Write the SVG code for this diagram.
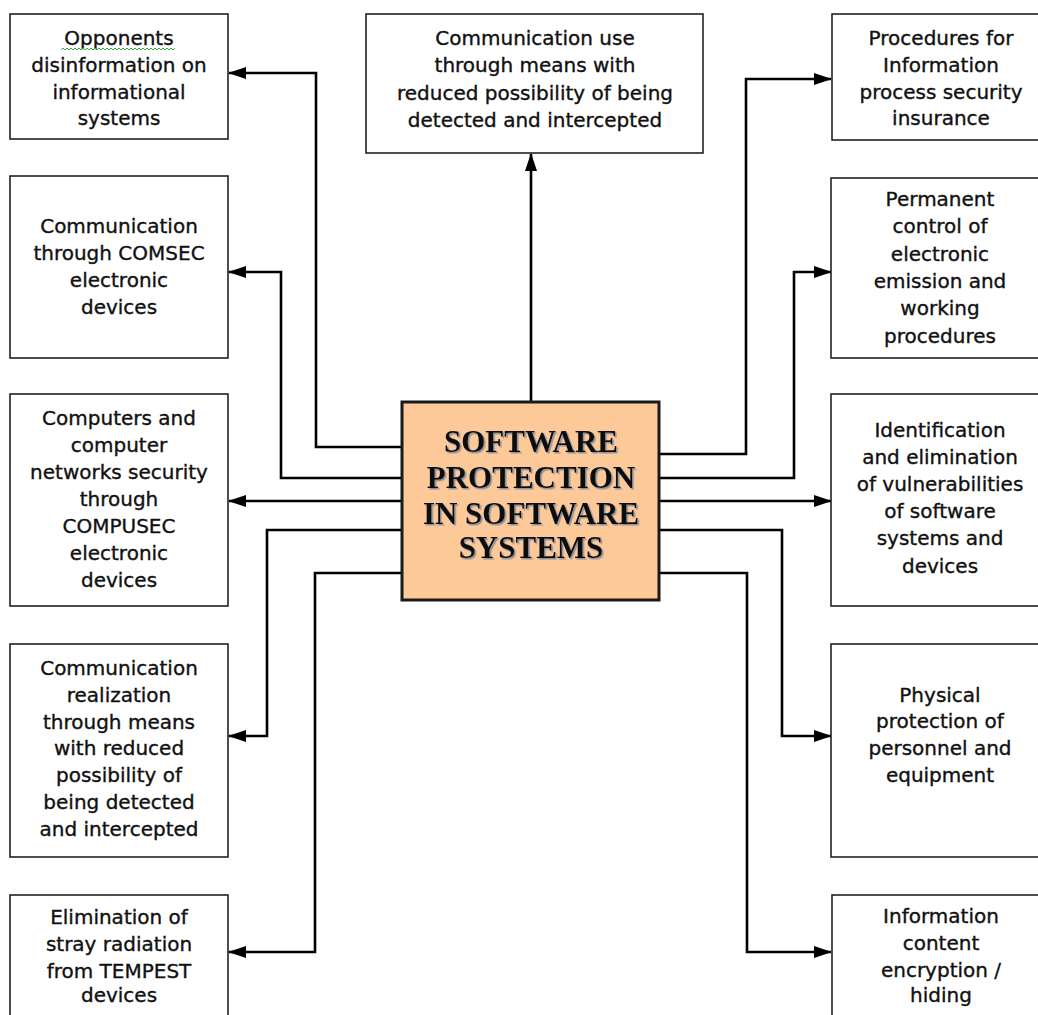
<svg xmlns="http://www.w3.org/2000/svg" width="1038" height="1015" viewBox="0 0 1038 1015">
<defs>
<style>
.box{fill:#fff;stroke:#222;stroke-width:1.6}
.t{font-family:"DejaVu Sans","Liberation Sans",sans-serif;font-size:20px;fill:#111;stroke:#111;stroke-width:0.35;text-anchor:middle}
.c{font-family:"Liberation Serif","Times New Roman",serif;font-size:31px;font-weight:bold;fill:#111;text-anchor:middle}
.ln{fill:none;stroke:#000;stroke-width:2.6;stroke-linejoin:miter}
</style>
<marker id="ah" markerUnits="userSpaceOnUse" markerWidth="18" markerHeight="12" refX="17" refY="6" orient="auto">
<path d="M0,0 L18,6 L0,12 Z" fill="#000"/>
</marker>
<filter id="sh" x="-10%" y="-10%" width="120%" height="130%">
<feDropShadow dx="1.5" dy="1.5" stdDeviation="0.6" flood-color="#6a7f9a" flood-opacity="0.8"/>
</filter>
</defs>

<g id="connectors">
<path class="ln" marker-end="url(#ah)" d="M531,402 V154"/>
<path class="ln" marker-end="url(#ah)" d="M402,447 H316 V73 H229"/>
<path class="ln" marker-end="url(#ah)" d="M402,478 H281 V272 H229"/>
<path class="ln" marker-end="url(#ah)" d="M402,501 H229"/>
<path class="ln" marker-end="url(#ah)" d="M402,530 H267 V736 H229"/>
<path class="ln" marker-end="url(#ah)" d="M402,573 H315 V952 H229"/>
<path class="ln" marker-end="url(#ah)" d="M659,454 H746 V79 H831"/>
<path class="ln" marker-end="url(#ah)" d="M659,478 H794 V272 H831"/>
<path class="ln" marker-end="url(#ah)" d="M659,501 H831"/>
<path class="ln" marker-end="url(#ah)" d="M659,530 H782 V736 H831"/>
<path class="ln" marker-end="url(#ah)" d="M659,573 H747 V952 H831"/>
</g>

<g id="center">
<rect x="402" y="402" width="257" height="198" fill="#fdc999" stroke="#1a1a1a" stroke-width="3"/>
<g filter="url(#sh)">
<text class="c" x="531" y="452">SOFTWARE</text>
<text class="c" x="531" y="488">PROTECTION</text>
<text class="c" x="531" y="524">IN SOFTWARE</text>
<text class="c" x="531" y="558">SYSTEMS</text>
</g>
</g>

<g id="top">
<rect class="box" x="366" y="14" width="337" height="139"/>
<text class="t" x="535" y="45">Communication use</text>
<text class="t" x="535" y="72">through means with</text>
<text class="t" x="535" y="100">reduced possibility of being</text>
<text class="t" x="535" y="127">detected and intercepted</text>
</g>

<g id="l1">
<rect class="box" x="10" y="14" width="218" height="125"/>
<text class="t" x="119" y="45">Opponents</text>
<path d="M61,50 l2,-2 l2,2 l2,-2 l2,2 l2,-2 l2,2 l2,-2 l2,2 l2,-2 l2,2 l2,-2 l2,2 l2,-2 l2,2 l2,-2 l2,2 l2,-2 l2,2 l2,-2 l2,2 l2,-2 l2,2 l2,-2 l2,2 l2,-2 l2,2 l2,-2 l2,2 l2,-2 l2,2 l2,-2 l2,2 l2,-2 l2,2 l2,-2 l2,2 l2,-2 l2,2 l2,-2 l2,2 l2,-2 l2,2 l2,-2 l2,2 l2,-2 l2,2 l2,-2 l2,2 l2,-2 l2,2 l2,-2 l2,2 l2,-2 l2,2 l2,-2 l2,2 l2,-2" fill="none" stroke="#3cb043" stroke-width="1"/>
<text class="t" x="119" y="72">disinformation on</text>
<text class="t" x="119" y="99">informational</text>
<text class="t" x="119" y="125">systems</text>
</g>

<g id="l2">
<rect class="box" x="10" y="176" width="218" height="182"/>
<text class="t" x="119" y="233">Communication</text>
<text class="t" x="119" y="260">through COMSEC</text>
<text class="t" x="119" y="287">electronic</text>
<text class="t" x="119" y="314">devices</text>
</g>

<g id="l3">
<rect class="box" x="10" y="394" width="218" height="212"/>
<text class="t" x="119" y="425">Computers and</text>
<text class="t" x="119" y="452">computer</text>
<text class="t" x="119" y="479">networks security</text>
<text class="t" x="119" y="506">through</text>
<text class="t" x="119" y="533">COMPUSEC</text>
<text class="t" x="119" y="560">electronic</text>
<text class="t" x="119" y="587">devices</text>
</g>

<g id="l4">
<rect class="box" x="10" y="644" width="218" height="213"/>
<text class="t" x="119" y="675">Communication</text>
<text class="t" x="119" y="702">realization</text>
<text class="t" x="119" y="729">through means</text>
<text class="t" x="119" y="755">with reduced</text>
<text class="t" x="119" y="782">possibility of</text>
<text class="t" x="119" y="809">being detected</text>
<text class="t" x="119" y="836">and intercepted</text>
</g>

<g id="l5">
<rect class="box" x="10" y="895" width="218" height="140"/>
<text class="t" x="119" y="924">Elimination of</text>
<text class="t" x="119" y="951">stray radiation</text>
<text class="t" x="119" y="978">from TEMPEST</text>
<text class="t" x="119" y="1002">devices</text>
</g>

<g id="r1">
<rect class="box" x="832" y="14" width="220" height="126"/>
<text class="t" x="941" y="45">Procedures for</text>
<text class="t" x="941" y="72">Information</text>
<text class="t" x="941" y="99">process security</text>
<text class="t" x="941" y="125">insurance</text>
</g>

<g id="r2">
<rect class="box" x="831" y="178" width="220" height="180"/>
<text class="t" x="940" y="206">Permanent</text>
<text class="t" x="940" y="233">control of</text>
<text class="t" x="940" y="261">electronic</text>
<text class="t" x="940" y="288">emission and</text>
<text class="t" x="940" y="315">working</text>
<text class="t" x="940" y="343">procedures</text>
</g>

<g id="r3">
<rect class="box" x="831" y="394" width="220" height="212"/>
<text class="t" x="940" y="437">Identification</text>
<text class="t" x="940" y="464">and elimination</text>
<text class="t" x="940" y="491">of vulnerabilities</text>
<text class="t" x="940" y="518">of software</text>
<text class="t" x="940" y="545">systems and</text>
<text class="t" x="940" y="573">devices</text>
</g>

<g id="r4">
<rect class="box" x="831" y="644" width="220" height="213"/>
<text class="t" x="940" y="702">Physical</text>
<text class="t" x="940" y="728">protection of</text>
<text class="t" x="940" y="755">personnel and</text>
<text class="t" x="940" y="782">equipment</text>
</g>

<g id="r5">
<rect class="box" x="832" y="895" width="220" height="140"/>
<text class="t" x="941" y="923">Information</text>
<text class="t" x="941" y="950">content</text>
<text class="t" x="941" y="977">encryption /</text>
<text class="t" x="941" y="1002">hiding</text>
</g>
</svg>
